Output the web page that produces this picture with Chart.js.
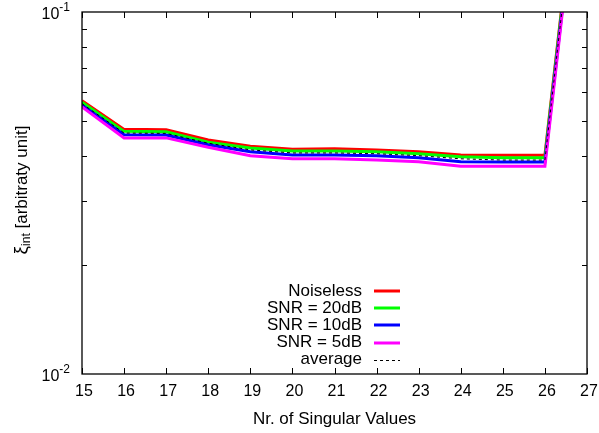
<!DOCTYPE html>
<html>
<head>
<meta charset="utf-8">
<script src="https://cdn.jsdelivr.net/npm/chart.js@4/dist/chart.umd.min.js"></script>
<style>
  html, body { margin: 0; padding: 0; background: #fff; }
  #wrap { width: 599px; height: 433px; }
</style>
</head>
<body>
<div id="wrap"><canvas id="c" width="599" height="433"></canvas></div>
<script>
// Interpolation error versus number of retained singular values
const singularValues = [15, 16, 17, 18, 19, 20, 21, 22, 23, 24, 25, 26, 27];
const noiseless = [0.0569, 0.0474, 0.0473, 0.0443, 0.0426, 0.0418, 0.0419, 0.0416, 0.0411, 0.0403, 0.0402, 0.0402, 0.42];
const snr20     = [0.0563, 0.0468, 0.0467, 0.0437, 0.0421, 0.0413, 0.0413, 0.0411, 0.0406, 0.0398, 0.0396, 0.0396, 0.415];
const snr10     = [0.0553, 0.0458, 0.0457, 0.0430, 0.0411, 0.0403, 0.0403, 0.0401, 0.0396, 0.0386, 0.0385, 0.0385, 0.405];
const snr5      = [0.0547, 0.0449, 0.0449, 0.0423, 0.0401, 0.0393, 0.0393, 0.0390, 0.0386, 0.0375, 0.0375, 0.0375, 0.40];
const average   = [0.0558, 0.0463, 0.0462, 0.0434, 0.0416, 0.0408, 0.0408, 0.0406, 0.0401, 0.0393, 0.0390, 0.0390, 0.41];

const seriesLabels = ['Noiseless', 'SNR = 20dB', 'SNR = 10dB', 'SNR = 5dB', 'average'];
const xTickValues = [15, 16, 17, 18, 19, 20, 21, 22, 23, 24, 25, 26, 27];
const yMajorTicks = [0.01, 0.1];
const yMajorExponents = ['-2', '-1'];
const yMinorTicks = [0.02, 0.03, 0.04, 0.05, 0.06, 0.07, 0.08, 0.09];

const FONT = '"Liberation Sans", Arial, Helvetica, sans-serif';

function points(values) {
  return singularValues.map((x, i) => ({ x: x, y: values[i] }));
}

const colors = ['#ff0000', '#00ff00', '#0000ff', '#ff00ff', '#000000'];
const seriesValues = [noiseless, snr20, snr10, snr5, average];

const datasets = seriesValues.map((vals, i) => ({
  label: seriesLabels[i],
  data: points(vals),
  borderColor: colors[i],
  backgroundColor: colors[i],
  borderWidth: i === 4 ? 1 : 3,
  borderDash: i === 4 ? [3, 3] : [],
  pointRadius: 0,
  tension: 0,
  fill: false,
  order: 5 - i
}));

// Border, inward ticks, tick labels, axis titles and the key
const gnuplotFrame = {
  id: 'gnuplotFrame',
  afterDatasetsDraw(chart) {
    const ctx = chart.ctx;
    const a = chart.chartArea;
    const xs = chart.scales.x;
    const ys = chart.scales.y;
    ctx.save();

    // ticks
    ctx.strokeStyle = '#000';
    ctx.lineWidth = 1;
    ctx.beginPath();
    xTickValues.forEach(v => {
      const px = Math.round(xs.getPixelForValue(v)) + 0.5;
      ctx.moveTo(px, a.bottom); ctx.lineTo(px, a.bottom - 6);
      ctx.moveTo(px, a.top); ctx.lineTo(px, a.top + 6);
    });
    yMinorTicks.forEach(v => {
      const py = Math.round(ys.getPixelForValue(v)) + 0.5;
      ctx.moveTo(a.left, py); ctx.lineTo(a.left + 5, py);
      ctx.moveTo(a.right, py); ctx.lineTo(a.right - 5, py);
    });
    ctx.stroke();

    // border
    ctx.lineWidth = 1.3;
    ctx.strokeRect(a.left, a.top, a.right - a.left, a.bottom - a.top);

    // x tick labels
    ctx.fillStyle = '#000';
    ctx.font = '16px ' + FONT;
    ctx.textAlign = 'center';
    ctx.textBaseline = 'middle';
    xTickValues.forEach(v => {
      ctx.fillText(String(v), xs.getPixelForValue(v) + 2, 392);
    });

    // y tick labels: 10 with superscript exponent
    yMajorTicks.forEach((v, i) => {
      const py = ys.getPixelForValue(v) + 2.5;
      ctx.font = '12px ' + FONT;
      ctx.textAlign = 'right';
      const ew = ctx.measureText(yMajorExponents[i]).width;
      ctx.fillText(yMajorExponents[i], 70, py - 7);
      ctx.font = '16px ' + FONT;
      ctx.fillText('10', 70 - ew, py);
    });

    // x title
    ctx.font = '17px ' + FONT;
    ctx.textAlign = 'center';
    ctx.fillText('Nr. of Singular Values', (a.left + a.right) / 2, 419);

    // y title, rotated, with subscript
    ctx.save();
    ctx.translate(22, 190);
    ctx.rotate(-Math.PI / 2);
    const pMain = 'ξ';
    const pSub = 'int';
    const pRest = ' [arbitraty unit]';
    ctx.font = '19px ' + FONT;
    const w1 = ctx.measureText(pMain).width;
    ctx.font = '17px ' + FONT;
    const w3 = ctx.measureText(pRest).width;
    ctx.font = '12px ' + FONT;
    const w2 = ctx.measureText(pSub).width;
    let x0 = -(w1 + w2 + w3) / 2;
    ctx.textAlign = 'left';
    ctx.font = '19px ' + FONT;
    ctx.fillText(pMain, x0, 0);
    ctx.font = '12px ' + FONT;
    ctx.fillText(pSub, x0 + w1, 5);
    ctx.font = '17px ' + FONT;
    ctx.fillText(pRest, x0 + w1 + w2, 0);
    ctx.restore();

    // key
    chart.data.datasets.forEach((ds, i) => {
      const y = 291 + i * 17.2;
      ctx.font = '17px ' + FONT;
      ctx.textAlign = 'right';
      ctx.fillStyle = '#000';
      ctx.fillText(ds.label, 362, y);
      ctx.beginPath();
      ctx.strokeStyle = ds.borderColor;
      ctx.lineWidth = ds.borderWidth;
      ctx.setLineDash(ds.borderDash);
      ctx.moveTo(374, Math.round(y) + (ds.borderWidth === 1 ? 0.5 : 0));
      ctx.lineTo(400, Math.round(y) + (ds.borderWidth === 1 ? 0.5 : 0));
      ctx.stroke();
      ctx.setLineDash([]);
    });

    ctx.restore();
  }
};

new Chart(document.getElementById('c'), {
  type: 'line',
  data: { datasets: datasets },
  options: {
    responsive: false,
    animation: false,
    layout: { padding: { left: 82, right: 12, top: 12, bottom: 59 } },
    scales: {
      x: { type: 'linear', min: 15, max: 27, display: false },
      y: { type: 'logarithmic', min: 0.01, max: 0.1, display: false }
    },
    plugins: { legend: { display: false }, tooltip: { enabled: false } }
  },
  plugins: [gnuplotFrame]
});
</script>
</body>
</html>
